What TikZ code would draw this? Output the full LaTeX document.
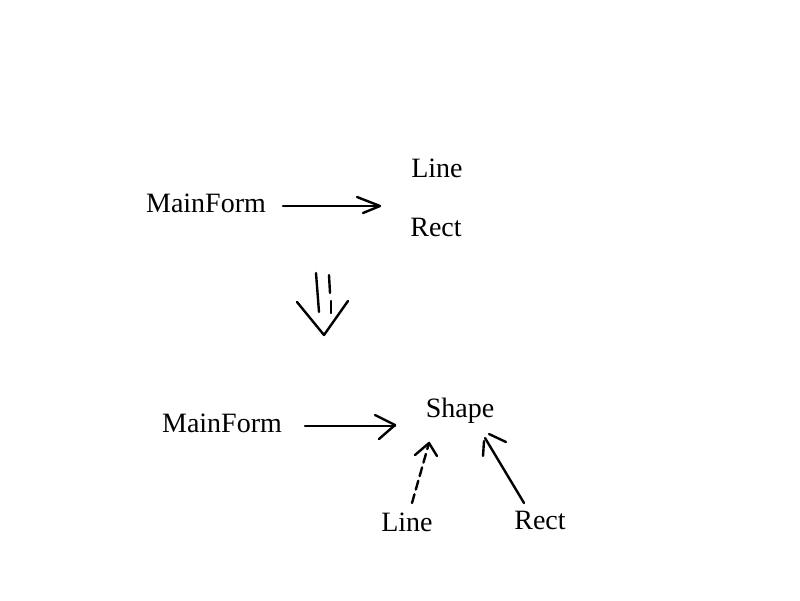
\documentclass[tikz,border=0pt]{standalone}
\usepackage{fontspec}
\setmainfont{Liberation Serif}
\begin{document}
\begin{tikzpicture}[x=1pt,y=-1pt,
  lbl/.style={anchor=base,inner sep=0pt,font=\fontsize{28}{32}\selectfont},
  stroke/.style={line width=2.4pt,line cap=round,line join=round}]
\useasboundingbox (0,0) rectangle (800,600);
% top
\node[lbl] (mf1) at (206,212) {MainForm};
\node[lbl] (line1) at (437,177) {Line};
\node[lbl] (rect1) at (436,236) {Rect};
\coordinate (a1s) at (283,206);
\coordinate (a1e) at (379,206);
\draw[stroke] (a1s) -- (a1e);
\draw[stroke] (357,197) -- (380,206) -- (363,213);
% down double arrow
\draw[stroke] (316,273) -- (319,312);
\draw[stroke] (329,275) -- (330,293);
\draw[stroke] (331,301) -- (331,313);
\draw[stroke] (297,302) -- (324,335) -- (348,301);
% bottom
\node[lbl] (mf2) at (222,432) {MainForm};
\node[lbl] (shape) at (460,417) {Shape};
\node[lbl] (line2) at (407,531) {Line};
\node[lbl] (rect2) at (540,529) {Rect};
\coordinate (a2s) at (305,426);
\coordinate (a2e) at (395,426);
\draw[stroke] (a2s) -- (a2e);
\draw[stroke] (375,415) -- (395,425) -- (379,439);
% dashed from Line
\coordinate (a3s) at (412,503);
\coordinate (a3e) at (429,443);
\draw[stroke,dash pattern=on 9pt off 5pt] (a3s) -- (a3e);
\draw[stroke] (415,455) -- (429,443) -- (437,456);
% solid from Rect
\coordinate (a4s) at (524,503);
\coordinate (a4e) at (485,438);
\draw[stroke] (a4s) -- (a4e);
\draw[stroke] (483,456) -- (484,441);
\draw[stroke] (489,434) -- (506,442);
\end{tikzpicture}
\end{document}
